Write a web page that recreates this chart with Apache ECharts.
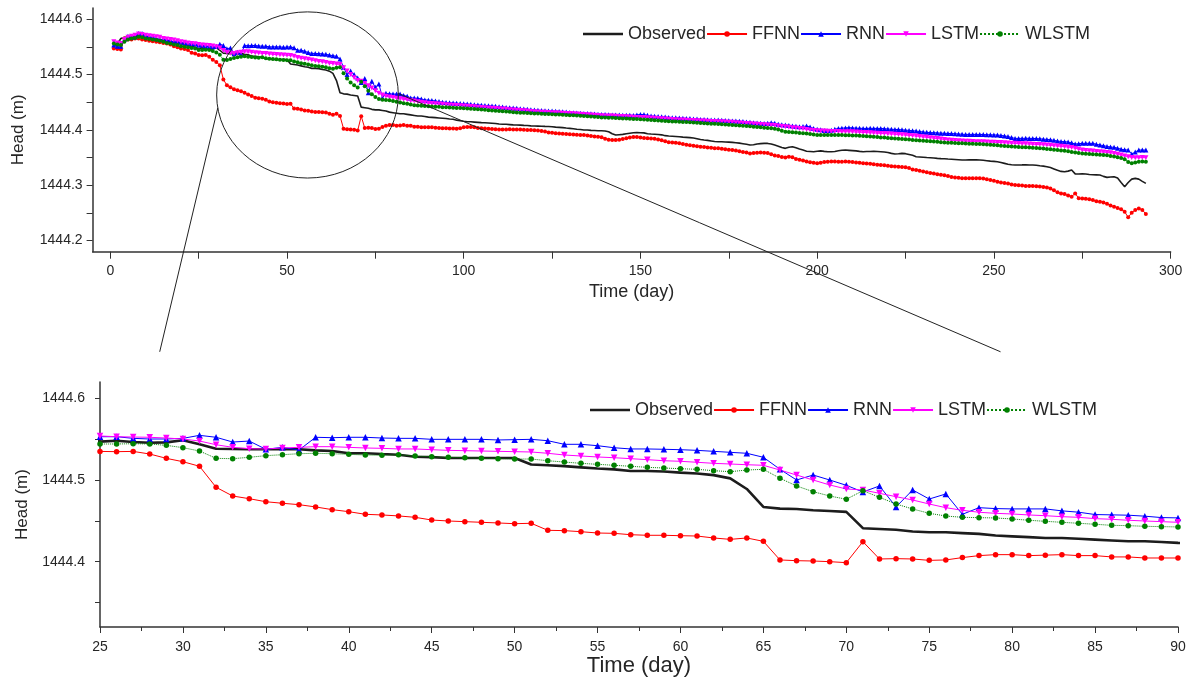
<!DOCTYPE html>
<html><head><meta charset="utf-8">
<script src="https://cdn.jsdelivr.net/npm/echarts@6/dist/echarts.min.js"></script>
<style>html,body{margin:0;padding:0;background:#fff}#chart{width:1194px;height:681px}</style>
</head><body><div id="chart"></div>
<script>
// ---- data (day 1 .. 293) ----
const firstDay = 1;
const seriesNames = ['Observed', 'FFNN', 'RNN', 'LSTM', 'WLSTM'];

const observed = [
1444.553,1444.555,1444.565,1444.567,1444.567,1444.567,1444.568,1444.569,1444.568,1444.567,
1444.566,1444.565,1444.564,1444.563,1444.562,1444.561,1444.559,1444.558,1444.557,1444.556,
1444.554,1444.552,1444.551,1444.549,
1444.547,1444.548,1444.5465,1444.5457,1444.5461,1444.5486,1444.5437,1444.5383,1444.538,1444.5376,
1444.5376,1444.5376,1444.5376,1444.5363,1444.5355,1444.5327,1444.5327,1444.5318,1444.531,
1444.5285,1444.528,1444.527,1444.527,1444.527,1444.527,1444.527,1444.519,1444.518,1444.517,
1444.5155,1444.514,1444.513,1444.511,1444.511,1444.5105,1444.509,1444.508,1444.506,1444.502,
1444.489,1444.467,1444.465,
1444.4645,1444.463,1444.462,1444.461,1444.441,1444.440,1444.439,1444.437,1444.436,1444.436,
1444.435,1444.434,1444.432,1444.431,1444.430,1444.429,1444.429,1444.428,1444.427,1444.426,
1444.425,1444.425,1444.424,1444.423,
1444.4225,1444.422,1444.4215,1444.421,1444.4205,1444.4195,1444.419,1444.4175,1444.4165,1444.4155,
1444.4147,1444.4145,1444.414,1444.4135,1444.413,1444.4128,1444.4125,1444.412,1444.4115,1444.4105,
1444.4102,1444.41,1444.4095,1444.409,1444.4087,1444.4085,1444.408,1444.4078,1444.4072,1444.4069,
1444.4068,1444.4065,1444.4062,1444.406,1444.4057,1444.405,1444.4045,1444.404,1444.4033,1444.4027,
1444.402,1444.401,1444.4005,1444.3998,1444.3996,1444.399,1444.3988,1444.3985,1444.3984,1444.398,
1444.3965,1444.393,1444.3906,1444.3912,1444.3918,1444.393,1444.394,1444.3948,1444.395,1444.3948,
1444.3945,1444.393,1444.3924,1444.392,1444.3915,1444.391,1444.3895,1444.3888,1444.3885,1444.388,
1444.3875,1444.3868,1444.3864,1444.386,1444.3852,1444.384,1444.3825,1444.3816,1444.381,1444.380,
1444.379,1444.3786,1444.3785,1444.378,1444.3778,1444.3774,1444.3768,1444.376,1444.375,1444.374,
1444.3726,1444.373,1444.3745,1444.3752,1444.3756,1444.3755,1444.3745,1444.3726,1444.3705,1444.368,
1444.3666,1444.3685,1444.3696,1444.3675,1444.3653,1444.3635,1444.3615,1444.361,1444.3605,1444.3615,
1444.362,1444.3612,1444.3605,1444.3605,1444.361,1444.3622,1444.3632,1444.3635,1444.363,1444.3625,
1444.362,1444.3612,1444.3605,1444.3608,1444.361,1444.3612,1444.361,1444.3605,1444.36,1444.359,
1444.3575,1444.3565,1444.3568,1444.3575,1444.357,1444.3555,1444.354,1444.3515,1444.351,1444.3505,
1444.350,1444.3497,1444.3492,1444.3485,1444.348,1444.3478,1444.3473,1444.347,1444.3465,1444.346,
1444.3455,1444.3455,1444.3458,1444.346,1444.3458,1444.3455,1444.345,1444.3443,1444.3435,1444.343,
1444.3425,1444.341,1444.3395,1444.338,1444.337,1444.3365,1444.3365,1444.3367,1444.337,1444.3366,
1444.3365,1444.336,1444.3352,1444.3345,1444.3335,1444.332,1444.3295,1444.327,1444.325,1444.3244,
1444.3255,1444.3274,1444.3205,1444.3202,1444.3205,1444.3202,1444.3195,1444.319,1444.3187,1444.3184,
1444.316,1444.3142,1444.3148,1444.3154,1444.313,1444.305,1444.2974,1444.305,1444.311,1444.3124,
1444.311,1444.307,1444.3034
];

const ffnn = [
1444.547,1444.546,1444.545,1444.565,1444.563,1444.563,1444.565,1444.565,1444.563,1444.562,
1444.561,1444.560,1444.559,1444.558,1444.557,1444.556,1444.554,1444.551,1444.549,1444.547,
1444.546,1444.544,1444.539,1444.538,
1444.535,1444.5347,1444.535,1444.5318,1444.5265,1444.5224,1444.5168,1444.4911,1444.4804,1444.4771,
1444.4734,1444.4715,1444.4698,1444.467,1444.4637,1444.4612,1444.458,1444.4572,1444.456,
1444.4543,1444.451,1444.4498,1444.449,1444.4482,1444.4474,1444.4465,1444.447,1444.4384,1444.438,
1444.4367,1444.4351,1444.4347,1444.433,1444.4323,1444.4323,1444.4318,1444.4314,1444.429,1444.4273,
1444.429,1444.4249,1444.4021,
1444.4012,1444.4008,1444.400,1444.3988,1444.4245,1444.4033,1444.4037,1444.4033,1444.4016,1444.4021,
1444.405,1444.4074,1444.4086,1444.4086,1444.4074,1444.408,1444.4086,1444.4074,1444.4074,1444.4058,
1444.4058,1444.4045,1444.4045,1444.4045,
1444.4045,1444.404,1444.4035,1444.403,1444.4028,1444.4026,1444.4025,1444.4022,1444.403,1444.4045,
1444.405,1444.4052,1444.4045,1444.4035,1444.4028,1444.4025,1444.402,1444.4015,1444.401,1444.4008,
1444.4005,1444.4008,1444.401,1444.4008,1444.4008,1444.4005,1444.400,1444.3998,1444.3996,1444.3994,
1444.399,1444.398,1444.397,1444.395,1444.3948,1444.394,1444.3932,1444.3928,1444.3924,1444.392,
1444.3915,1444.391,1444.3906,1444.3905,1444.390,1444.389,1444.388,1444.3876,1444.3865,1444.384,
1444.382,1444.3816,1444.3816,1444.382,1444.3835,1444.385,1444.3862,1444.3872,1444.387,1444.386,
1444.3855,1444.3848,1444.3846,1444.384,1444.3825,1444.381,1444.3795,1444.3775,1444.377,1444.3765,
1444.376,1444.3745,1444.373,1444.372,1444.3715,1444.3705,1444.3696,1444.369,1444.3682,1444.3675,
1444.367,1444.3666,1444.366,1444.365,1444.364,1444.3635,1444.3625,1444.3615,1444.360,1444.359,
1444.3575,1444.358,1444.3588,1444.359,1444.3587,1444.358,1444.356,1444.3535,1444.3527,1444.351,
1444.3503,1444.3515,1444.3505,1444.3475,1444.346,1444.3445,1444.343,1444.3415,1444.3405,1444.3395,
1444.3405,1444.342,1444.3425,1444.343,1444.3428,1444.3425,1444.3425,1444.3428,1444.3425,1444.342,
1444.341,1444.3405,1444.3398,1444.3392,1444.339,1444.338,1444.3372,1444.3365,1444.336,1444.3352,
1444.3345,1444.334,1444.3335,1444.3328,1444.3323,1444.331,1444.3285,1444.3274,1444.326,1444.325,
1444.3235,1444.322,1444.3214,1444.320,1444.319,1444.318,1444.3165,1444.315,1444.314,1444.3135,
1444.3128,1444.3125,1444.3124,1444.3124,1444.3124,1444.3124,1444.312,1444.311,1444.3095,1444.308,
1444.3064,1444.305,1444.304,1444.303,1444.3015,1444.3004,1444.300,1444.2995,1444.2988,1444.2986,
1444.2985,1444.298,1444.2975,1444.297,1444.296,1444.2943,1444.291,1444.2875,1444.2853,1444.284,
1444.2815,1444.2793,1444.2853,1444.2763,1444.276,1444.2755,1444.2745,1444.2735,1444.2712,1444.2703,
1444.269,1444.2665,1444.2635,1444.2612,1444.259,1444.2565,1444.2522,1444.242,1444.2505,1444.2552,
1444.2582,1444.2555,1444.248
];

const rnn = [
1444.553,1444.551,1444.551,1444.563,1444.569,1444.567,1444.568,1444.574,1444.574,1444.569,
1444.568,1444.567,1444.565,1444.563,1444.563,1444.562,1444.561,1444.559,1444.559,1444.558,
1444.557,1444.556,1444.556,1444.555,
1444.553,1444.553,1444.551,1444.5502,1444.5502,1444.551,1444.5547,1444.5523,1444.5465,1444.5477,
1444.5376,1444.540,1444.5367,1444.5523,1444.5518,1444.5523,1444.5523,1444.5514,1444.551,
1444.551,1444.5498,1444.5498,1444.5498,1444.5498,1444.549,1444.5494,1444.5498,1444.5481,1444.5437,
1444.5437,1444.542,1444.5395,1444.538,1444.538,1444.5376,1444.5371,1444.5363,1444.5351,1444.5339,
1444.5327,1444.5278,1444.5131,
1444.500,1444.5061,1444.500,1444.4935,1444.4853,1444.4927,1444.467,1444.4878,1444.4767,1444.4829,
1444.458,1444.4661,1444.465,1444.4646,1444.4646,1444.4646,1444.4622,1444.4606,1444.4577,1444.4573,
1444.4569,1444.4557,1444.454,1444.4536,
1444.453,1444.452,1444.451,1444.450,1444.4495,1444.449,1444.4485,1444.448,1444.4475,1444.447,
1444.4465,1444.446,1444.4455,1444.445,1444.4445,1444.444,1444.4435,1444.443,1444.4425,1444.4418,
1444.4412,1444.4405,1444.440,1444.4395,1444.4388,1444.438,1444.4375,1444.437,1444.4362,1444.4357,
1444.4352,1444.4348,1444.4345,1444.4342,1444.4339,1444.4335,1444.433,1444.4325,1444.4321,1444.4315,
1444.431,1444.4305,1444.430,1444.4297,1444.4293,1444.429,1444.4285,1444.4282,1444.4279,1444.4275,
1444.4272,1444.427,1444.4268,1444.4267,1444.4265,1444.4264,1444.4263,1444.4261,1444.427,1444.4278,
1444.4275,1444.4262,1444.4249,1444.4245,1444.424,1444.4235,1444.423,1444.4225,1444.422,1444.4218,
1444.4212,1444.4209,1444.4207,1444.4203,1444.4198,1444.4195,1444.4189,1444.4187,1444.4184,1444.418,
1444.4178,1444.4177,1444.4175,1444.417,1444.4165,1444.4162,1444.4159,1444.4155,1444.415,1444.414,
1444.4135,1444.413,1444.4125,1444.412,1444.4115,1444.4117,1444.4129,1444.412,1444.410,1444.409,
1444.4087,1444.408,1444.407,1444.4063,1444.4057,1444.406,1444.4069,1444.405,1444.4026,1444.401,
1444.400,1444.399,1444.3984,1444.3995,1444.401,1444.4026,1444.403,1444.4035,1444.4039,1444.4035,
1444.403,1444.4028,1444.4026,1444.4026,1444.4028,1444.4026,1444.4026,1444.4026,1444.402,1444.4015,
1444.401,1444.4008,1444.4005,1444.400,1444.3995,1444.399,1444.3984,1444.3978,1444.397,1444.396,
1444.3955,1444.395,1444.3948,1444.3945,1444.394,1444.3938,1444.3936,1444.3932,1444.393,1444.3925,
1444.392,1444.3918,1444.3918,1444.3918,1444.3918,1444.3918,1444.3915,1444.3912,1444.391,1444.3908,
1444.3906,1444.390,1444.389,1444.388,1444.386,1444.3846,1444.3846,1444.3846,1444.3848,1444.3846,
1444.3846,1444.3842,1444.3838,1444.3832,1444.3828,1444.382,1444.381,1444.3798,1444.379,1444.3786,
1444.378,1444.3765,1444.3744,1444.375,1444.3756,1444.3756,1444.3756,1444.3756,1444.374,1444.3726,
1444.3715,1444.370,1444.369,1444.3684,1444.367,1444.365,1444.364,1444.3635,1444.3563,1444.360,
1444.3635,1444.3635,1444.3635
];

const lstm = [
1444.559,1444.557,1444.556,1444.563,1444.567,1444.569,1444.571,1444.573,1444.572,1444.571,
1444.570,1444.569,1444.568,1444.567,1444.565,1444.564,1444.563,1444.562,1444.561,1444.559,
1444.558,1444.557,1444.556,1444.5555,
1444.5539,1444.553,1444.5526,1444.5523,1444.5514,1444.5502,1444.5477,1444.5432,1444.540,1444.5383,
1444.538,1444.5392,1444.540,1444.5408,1444.5408,1444.540,1444.5392,1444.5388,1444.538,
1444.538,1444.5371,1444.5363,1444.5359,1444.5355,1444.5351,1444.5347,1444.5343,1444.5327,1444.5306,
1444.5294,1444.5282,1444.5273,1444.5261,1444.5249,1444.5236,1444.5229,1444.5217,1444.5204,1444.5196,
1444.5187,1444.518,1444.5122,
1444.5061,1444.500,1444.4939,1444.489,1444.4878,1444.4837,1444.4796,1444.4755,1444.4706,1444.4661,
1444.4629,1444.4605,1444.4592,1444.4584,1444.4572,1444.4563,1444.4551,1444.4543,1444.4527,1444.4519,
1444.4507,1444.4498,1444.449,1444.4482,
1444.4475,1444.447,1444.4465,1444.446,1444.4455,1444.445,1444.4445,1444.444,1444.4435,1444.443,
1444.4425,1444.442,1444.4415,1444.441,1444.4405,1444.440,1444.4395,1444.439,1444.4385,1444.4381,
1444.4375,1444.437,1444.4365,1444.436,1444.4355,1444.435,1444.4345,1444.434,1444.4333,1444.4327,
1444.4322,1444.432,1444.4317,1444.4314,1444.431,1444.4307,1444.4304,1444.430,1444.4297,1444.4293,
1444.429,1444.4286,1444.4282,1444.4278,1444.4274,1444.427,1444.4265,1444.426,1444.4255,1444.4252,
1444.425,1444.4248,1444.4245,1444.4242,1444.424,1444.4237,1444.4232,1444.4228,1444.4225,1444.4225,
1444.4222,1444.4218,1444.4215,1444.421,1444.4205,1444.420,1444.4195,1444.419,1444.4186,1444.4183,
1444.418,1444.4177,1444.4174,1444.4171,1444.4168,1444.4165,1444.4162,1444.4159,1444.4156,1444.4153,
1444.415,1444.4147,1444.4144,1444.4141,1444.4138,1444.4135,1444.4129,1444.4125,1444.412,1444.4115,
1444.411,1444.4105,1444.410,1444.4095,1444.409,1444.4087,1444.4082,1444.4077,1444.407,1444.4062,
1444.4055,1444.4048,1444.404,1444.4032,1444.4026,1444.402,1444.4008,1444.3998,1444.399,1444.3984,
1444.398,1444.3978,1444.3975,1444.3972,1444.397,1444.3968,1444.3966,1444.3966,1444.3966,1444.3964,
1444.396,1444.3957,1444.3954,1444.395,1444.3947,1444.3944,1444.394,1444.3936,1444.3933,1444.393,
1444.3925,1444.392,1444.3915,1444.391,1444.3905,1444.390,1444.3895,1444.3888,1444.388,1444.3872,
1444.3865,1444.3858,1444.385,1444.3842,1444.3835,1444.3826,1444.3818,1444.3812,1444.3808,1444.3804,
1444.380,1444.3796,1444.3792,1444.3789,1444.3787,1444.3786,1444.3784,1444.3781,1444.3778,1444.3775,
1444.3772,1444.377,1444.3767,1444.3763,1444.376,1444.3756,1444.3753,1444.375,1444.3747,1444.3744,
1444.374,1444.3737,1444.3734,1444.373,1444.3726,1444.372,1444.3714,1444.3708,1444.3702,1444.3696,
1444.3688,1444.368,1444.367,1444.365,1444.3635,1444.3628,1444.3622,1444.3616,1444.361,1444.3604,
1444.3598,1444.3592,1444.3586,1444.3575,1444.356,1444.3545,1444.353,1444.3515,1444.3503,1444.3495,
1444.3497,1444.350,1444.3497
];

const wlstm = [
1444.556,1444.554,1444.553,1444.559,1444.563,1444.565,1444.566,1444.568,1444.567,1444.565,
1444.564,1444.563,1444.562,1444.561,1444.559,1444.557,1444.556,1444.554,1444.553,1444.551,
1444.550,1444.549,1444.548,1444.547,
1444.5441,1444.5441,1444.5444,1444.5441,1444.5424,1444.5396,1444.5355,1444.5265,1444.5261,1444.5278,
1444.5298,1444.531,1444.5322,1444.5327,1444.5322,1444.5314,1444.5306,1444.5302,1444.531,
1444.5294,1444.5285,1444.5278,1444.5273,1444.5265,1444.5261,1444.5257,1444.5257,1444.5236,1444.522,
1444.5204,1444.5192,1444.518,1444.5168,1444.5155,1444.5147,1444.5138,1444.5131,1444.5114,1444.5102,
1444.5122,1444.5131,1444.5021,
1444.4927,1444.4857,1444.4804,1444.4764,1444.4869,1444.4788,1444.4706,1444.4645,1444.4592,1444.4559,
1444.4543,1444.4539,1444.4535,1444.4523,1444.4507,1444.4494,1444.4482,1444.447,1444.4458,1444.4445,
1444.4441,1444.4433,1444.4429,1444.4425,
1444.4422,1444.4418,1444.4415,1444.441,1444.4407,1444.4403,1444.440,1444.4396,1444.4393,1444.439,
1444.4387,1444.4382,1444.4378,1444.4373,1444.4368,1444.4362,1444.4355,1444.435,1444.4345,1444.4339,
1444.4335,1444.433,1444.4325,1444.432,1444.4315,1444.431,1444.4307,1444.4303,1444.430,1444.4297,
1444.4294,1444.4291,1444.4288,1444.4285,1444.4282,1444.4278,1444.4275,1444.4272,1444.4268,1444.4265,
1444.4262,1444.4258,1444.4254,1444.425,1444.4245,1444.424,1444.4235,1444.423,1444.4225,1444.4222,
1444.422,1444.4217,1444.4214,1444.421,1444.4207,1444.4204,1444.420,1444.4197,1444.4195,1444.4192,
1444.4188,1444.4184,1444.418,1444.4175,1444.417,1444.4165,1444.416,1444.4155,1444.4152,1444.4149,
1444.4146,1444.4143,1444.414,1444.4136,1444.4132,1444.4127,1444.4122,1444.4118,1444.4114,1444.411,
1444.4108,1444.4104,1444.410,1444.4096,1444.4092,1444.4088,1444.4084,1444.408,1444.4075,1444.407,
1444.4064,1444.4058,1444.4052,1444.4046,1444.404,1444.4034,1444.4028,1444.402,1444.4005,1444.3985,
1444.3966,1444.396,1444.3955,1444.395,1444.3945,1444.394,1444.3932,1444.3924,1444.3915,1444.3906,
1444.3905,1444.3905,1444.3906,1444.3906,1444.3906,1444.3906,1444.3905,1444.3904,1444.3902,1444.390,
1444.3896,1444.3892,1444.3888,1444.3884,1444.388,1444.3875,1444.387,1444.3864,1444.386,1444.3855,
1444.385,1444.3845,1444.384,1444.3835,1444.383,1444.3824,1444.3818,1444.3813,1444.3808,1444.3803,
1444.3798,1444.3793,1444.3788,1444.3783,1444.3778,1444.3772,1444.3768,1444.3765,1444.3762,1444.3759,
1444.3756,1444.3753,1444.375,1444.3748,1444.3746,1444.3744,1444.374,1444.3735,1444.373,1444.3725,
1444.372,1444.3715,1444.371,1444.3705,1444.370,1444.3696,1444.3692,1444.3688,1444.3684,1444.368,
1444.3676,1444.3672,1444.3668,1444.3662,1444.3655,1444.365,1444.3642,1444.3635,1444.3628,1444.3623,
1444.3612,1444.360,1444.359,1444.358,1444.3575,1444.357,1444.3565,1444.356,1444.3555,1444.355,
1444.3545,1444.354,1444.353,1444.352,1444.3505,1444.349,1444.347,1444.342,1444.3395,1444.341,
1444.3425,1444.343,1444.3425
];

// axis ticks / labels
const topXTicks = [0,25,50,75,100,125,150,175,200,225,250,275,300];
const topXLabels = [0,50,100,150,200,250,300];
const topYTicks = [1444.2,1444.25,1444.3,1444.35,1444.4,1444.45,1444.5,1444.55,1444.6];
const topYLabels = [1444.2,1444.3,1444.4,1444.5,1444.6];
const botYTicks = [1444.35,1444.4,1444.45,1444.5,1444.55,1444.6];
const botYLabels = [1444.4,1444.5,1444.6];
const zoomWindow = [25, 90];

// ---- chart ----
const FONT = "'Liberation Sans', Arial, sans-serif";
const TXT = '#262626';
const AX = '#333333';
const chart = echarts.init(document.getElementById('chart'));
const valuesOf = {Observed: observed, FFNN: ffnn, RNN: rnn, LSTM: lstm, WLSTM: wlstm};
const styleOf = {
  Observed: {color: '#1c1c1c', symbol: 'none', lineType: 'solid', rotate: 0},
  FFNN: {color: '#ff0000', symbol: 'circle', lineType: 'solid', rotate: 0},
  RNN: {color: '#0000ff', symbol: 'triangle', lineType: 'solid', rotate: 0},
  LSTM: {color: '#ff00ff', symbol: 'triangle', lineType: 'solid', rotate: 180},
  WLSTM: {color: '#008000', symbol: 'circle', lineType: 'dotted', rotate: 0}
};
function toPairs(arr) { return arr.map((v, i) => [firstDay + i, v]); }
function makeSeries(panel) {
  return seriesNames.map(name => {
    const s = styleOf[name];
    const isObs = name === 'Observed';
    const tri = s.symbol === 'triangle';
    return {
      name, type: 'line', xAxisIndex: panel, yAxisIndex: panel,
      data: toPairs(valuesOf[name]),
      symbol: s.symbol, symbolRotate: s.rotate,
      symbolSize: panel === 0 ? (tri ? 5 : 4) : (tri ? 6.5 : 5.5),
      showSymbol: !isObs,
      lineStyle: {color: s.color, width: isObs ? (panel === 0 ? 1.6 : 2.6) : 1, type: s.lineType},
      itemStyle: {color: s.color},
      emphasis: {disabled: true},
      clip: true, animation: false
    };
  });
}
function xAxisCfg(grid, opts) {
  return Object.assign({
    gridIndex: grid, type: 'value', name: 'Time (day)', nameLocation: 'middle',
    axisLine: {onZero: false, lineStyle: {color: AX, width: 1.5}},
    splitLine: {show: false}
  }, opts);
}
const legendData = seriesNames.map(n => n === 'Observed'
  ? {name: n, icon: 'path://M0,0H16V1H0Z', itemStyle: {color: '#1c1c1c'}}
  : {name: n});
function legendCfg(left, top) {
  return {left, top, orient: 'horizontal', itemGap: 0, itemWidth: 40, itemHeight: 7,
    data: legendData, selectedMode: false,
    textStyle: {fontFamily: FONT, fontSize: 18, color: TXT}};
}
const option = {
  animation: false,
  backgroundColor: '#ffffff',
  textStyle: {fontFamily: FONT},
  grid: [
    {left: 92.6, top: 8, width: 1078, height: 243.7},
    {left: 100, top: 382, width: 1078, height: 245}
  ],
  legend: [legendCfg(578, 20), legendCfg(585, 396)],
  xAxis: [
    xAxisCfg(0, {min: -5, max: 300, nameGap: 31,
      nameTextStyle: {fontSize: 18, color: TXT, fontFamily: FONT},
      axisTick: {customValues: topXTicks, length: 7, lineStyle: {color: AX}},
      axisLabel: {customValues: topXLabels, margin: 12, fontSize: 14, color: TXT, fontFamily: FONT}}),
    xAxisCfg(1, {min: zoomWindow[0], max: zoomWindow[1], interval: 5, nameGap: 28,
      nameTextStyle: {fontSize: 22, color: TXT, fontFamily: FONT},
      axisTick: {length: 6, lineStyle: {color: AX}},
      minorTick: {show: true, splitNumber: 2, length: 4, lineStyle: {color: AX}},
      axisLabel: {margin: 13, fontSize: 14, color: TXT, fontFamily: FONT}})
  ],
  yAxis: [
    {gridIndex: 0, type: 'value', min: 1444.18, max: 1444.62, name: 'Head (m)', nameLocation: 'middle',
      nameGap: 66, nameRotate: 90, nameTextStyle: {fontSize: 17, color: TXT, fontFamily: FONT},
      axisLine: {show: true, onZero: false, lineStyle: {color: AX, width: 1.5}},
      axisTick: {show: true, customValues: topYTicks, length: 6, lineStyle: {color: AX}},
      axisLabel: {customValues: topYLabels, margin: 10, fontSize: 14, color: TXT, fontFamily: FONT,
        formatter: v => v.toFixed(1)},
      splitLine: {show: false}},
    {gridIndex: 1, type: 'value', min: 1444.32, max: 1444.62, name: 'Head (m)', nameLocation: 'middle',
      nameGap: 67, nameRotate: 90, nameTextStyle: {fontSize: 17, color: TXT, fontFamily: FONT},
      axisLine: {show: true, onZero: false, lineStyle: {color: AX, width: 1.5}},
      axisTick: {show: true, customValues: botYTicks, length: 5, lineStyle: {color: AX}},
      axisLabel: {customValues: botYLabels, margin: 15, fontSize: 14, color: TXT, fontFamily: FONT,
        formatter: v => v.toFixed(1)},
      splitLine: {show: false}}
  ],
  series: makeSeries(0).concat(makeSeries(1))
};
chart.setOption(option);

// zoom annotation: ellipse around the zoomed period in the top panel + connector lines
const c = chart.convertToPixel({gridIndex: 0}, [55.8, 1444.463]);
const e = chart.convertToPixel({gridIndex: 0}, [81.5, 1444.313]);
const rx = e[0] - c[0], ry = e[1] - c[1];
const ang1 = 171 * Math.PI / 180, ang2 = -1 * Math.PI / 180;
const p1 = [c[0] + rx * Math.cos(ang1), c[1] + ry * Math.sin(ang1)];
const p2 = [c[0] + rx * Math.cos(ang2), c[1] + ry * Math.sin(ang2)];
const q1 = chart.convertToPixel({gridIndex: 1}, [28.6, 1444.657]);
const q2 = chart.convertToPixel({gridIndex: 1}, [79.3, 1444.657]);
chart.setOption({
  graphic: [
    {type: 'ellipse', shape: {cx: c[0], cy: c[1], rx: rx, ry: ry}, style: {fill: 'none', stroke: '#222', lineWidth: 1}, silent: true, z: 100},
    {type: 'line', shape: {x1: p1[0], y1: p1[1], x2: q1[0], y2: q1[1]}, style: {stroke: '#222', lineWidth: 1}, silent: true, z: 100},
    {type: 'line', shape: {x1: p2[0], y1: p2[1], x2: q2[0], y2: q2[1]}, style: {stroke: '#222', lineWidth: 1}, silent: true, z: 100}
  ]
});
</script>
</body></html>
